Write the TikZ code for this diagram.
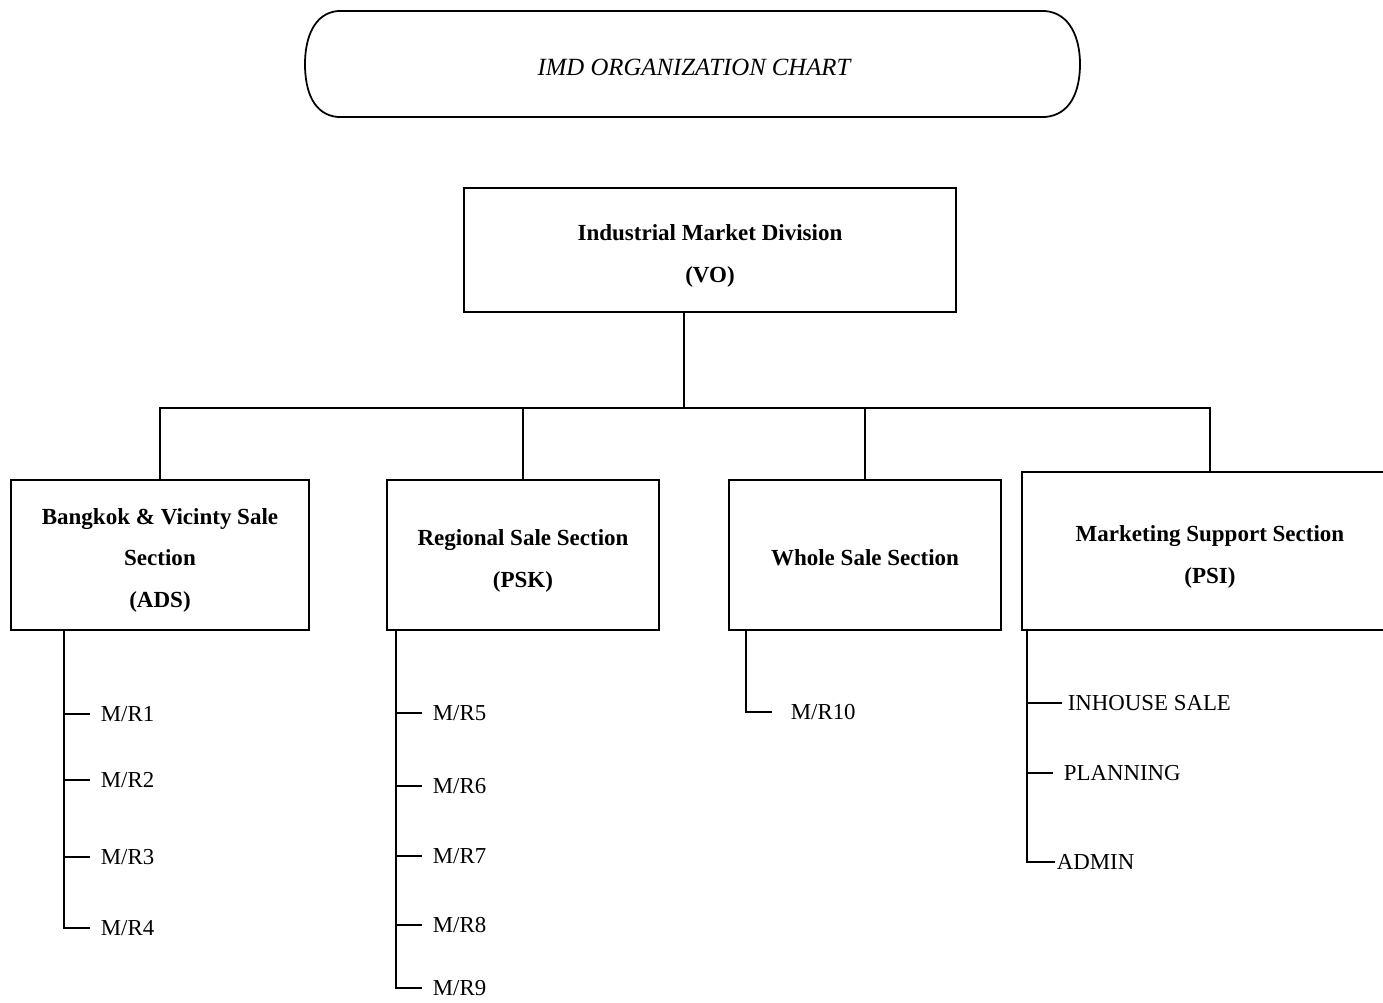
\documentclass[tikz,border=0pt]{standalone}
\usepackage{fontspec}
\setmainfont{Liberation Serif}
\begin{document}
\begin{tikzpicture}[x=0.02cm, y=-0.02cm, line width=1pt,
  unit box/.style={draw, rectangle, inner sep=0pt},
  unit text/.style={align=center, inner sep=0pt,
    font=\bfseries\fontsize{13.1}{23.6}\selectfont},
  leaf/.style={anchor=west, inner sep=0pt, text height=8.6pt, text depth=0pt,
    font=\fontsize{13}{15}\selectfont}]
\useasboundingbox (0,0) rectangle (1383,1002);
\clip (0,0) rectangle (1383,1002);

% title banner
\node[font=\itshape\fontsize{14.1}{17}\selectfont] (title) at (694,67) {IMD ORGANIZATION CHART};
\draw (338,11) -- (1045,11) .. controls (1070,13) and (1080,38) .. (1080,64)
  .. controls (1080,92) and (1070,115) .. (1045,117) -- (338,117)
  .. controls (314,115) and (305,92) .. (305,64)
  .. controls (305,38) and (314,13) .. (338,11) -- cycle;

% division and sections (frames)
\node[unit box, minimum width=9.84cm, minimum height=2.48cm] (vo) at (710,250) {};
\node[unit box, minimum width=5.96cm, minimum height=3cm] (ads) at (160,555) {};
\node[unit box, minimum width=5.44cm, minimum height=3cm] (psk) at (523,555) {};
\node[unit box, minimum width=5.44cm, minimum height=3cm] (ws) at (865,555) {};
\node[unit box, minimum width=7.52cm, minimum height=3.16cm] (psi) at (1210,551) {};

% their titles
\node[unit text] (vo-t) at ([yshift=-0.12cm]vo.center) {Industrial Market Division\\(VO)};
\node[unit text] (ads-t) at ([yshift=-0.1cm]ads.center) {Bangkok \& Vicinty Sale\\Section\\(ADS)};
\node[unit text] (psk-t) at ([yshift=-0.12cm]psk.center) {Regional Sale Section\\(PSK)};
\node[unit text] (ws-t) at ([yshift=-0.06cm]ws.center) {Whole Sale Section};
\node[unit text] (psi-t) at ([yshift=-0.12cm]psi.center) {Marketing Support Section\\(PSI)};

\coordinate (hub) at (684,408);
\draw (vo.south -| hub) -- (hub);
\draw (ads.north) -- (ads.north |- hub) -- (psi.north |- hub) -- (psi.north);
\draw (psk.north) -- (psk.north |- hub);
\draw (ws.north) -- (ws.north |- hub);

% ADS staff
\coordinate (sa) at (64,630);
\node[leaf] (mr1) at (100,714) {M/R1};
\node[leaf] (mr2) at (100,780) {M/R2};
\node[leaf] (mr3) at (100,857) {M/R3};
\node[leaf] (mr4) at (100,928) {M/R4};
\draw (sa) |- ([xshift=-0.2cm]mr4.west);
\foreach \n in {mr1,mr2,mr3}
  \draw (sa |- \n.west) -- ([xshift=-0.2cm]\n.west);

% PSK staff
\coordinate (sb) at (396,630);
\node[leaf] (mr5) at (432,713) {M/R5};
\node[leaf] (mr6) at (432,786) {M/R6};
\node[leaf] (mr7) at (432,856) {M/R7};
\node[leaf] (mr8) at (432,925) {M/R8};
\node[leaf] (mr9) at (432,988) {M/R9};
\draw (sb) |- ([xshift=-0.2cm]mr9.west);
\foreach \n in {mr5,mr6,mr7,mr8}
  \draw (sb |- \n.west) -- ([xshift=-0.2cm]\n.west);

% wholesale staff
\coordinate (sc) at (746,630);
\node[leaf] (mr10) at (790,712) {M/R10};
\draw (sc) |- ([xshift=-0.36cm]mr10.west);

% marketing support units
\coordinate (sd) at (1027,630);
\node[leaf] (inh) at (1067,703) {INHOUSE SALE};
\node[leaf] (plan) at (1063,773) {PLANNING};
\node[leaf] (adm) at (1056,862) {ADMIN};
\draw (sd) |- ([xshift=-0.02cm]adm.west);
\draw (sd |- inh.west) -- ([xshift=-0.1cm]inh.west);
\draw (sd |- plan.west) -- ([xshift=-0.2cm]plan.west);
\end{tikzpicture}
\end{document}
